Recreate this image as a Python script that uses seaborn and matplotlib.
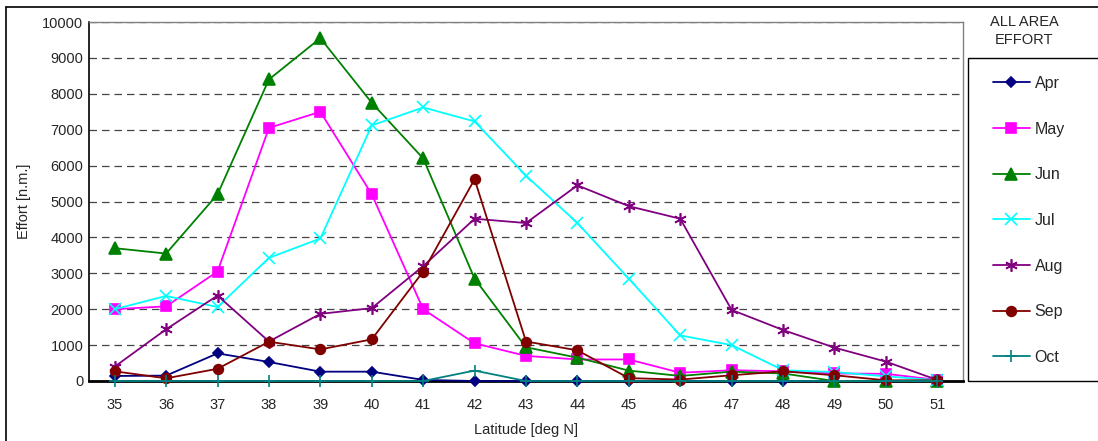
import matplotlib
matplotlib.use("Agg")
import matplotlib.pyplot as plt
import seaborn as sns
import pandas as pd
from matplotlib.patches import Rectangle
from matplotlib.lines import Line2D

latitude = list(range(35, 52))
months = ['Apr', 'May', 'Jun', 'Jul', 'Aug', 'Sep', 'Oct']

apr = [140, 150, 770, 530, 260, 260, 30, 0, 0, 0, 0, 0, 0, 0, 0, 0, 0]
may = [2000, 2080, 3050, 7050, 7500, 5200, 2000, 1050, 700, 600, 600, 230, 300, 270, 210, 200, 30]
jun = [3700, 3550, 5200, 8400, 9550, 7750, 6200, 2850, 940, 650, 290, 140, 260, 210, 0, 0, 0]
jul = [2000, 2370, 2060, 3430, 3970, 7120, 7620, 7230, 5720, 4400, 2850, 1270, 1000, 300, 250, 130, 20]
aug = [400, 1440, 2380, 1100, 1870, 2030, 3200, 4520, 4400, 5450, 4870, 4520, 1980, 1420, 930, 540, 30]
sep = [270, 75, 340, 1095, 880, 1160, 3050, 5620, 1100, 855, 80, 40, 160, 270, 160, 20, 20]
octo = [0, 0, 0, 0, 0, 0, 0, 290, 0, 0, 0, 0, 0, 0, 0, 0, 0]

series = {'Apr': apr, 'May': may, 'Jun': jun, 'Jul': jul, 'Aug': aug, 'Sep': sep, 'Oct': octo}
colors = {'Apr': '#000080', 'May': '#FF00FF', 'Jun': '#008000', 'Jul': '#00FFFF',
          'Aug': '#800080', 'Sep': '#800000', 'Oct': '#008080'}
markers = {'Apr': 'D', 'May': 's', 'Jun': '^', 'Jul': 'x', 'Aug': (6, 2, 0), 'Sep': 'o', 'Oct': '+'}
msizes = {'Apr': 5.5, 'May': 7, 'Jun': 8, 'Jul': 8, 'Aug': 9, 'Sep': 7, 'Oct': 8}

rows = []
for m in months:
    for lat, v in zip(latitude, series[m]):
        rows.append({'lat': lat, 'effort': v, 'month': m})
df = pd.DataFrame(rows)

sns.set_style('white')
plt.rcParams['font.family'] = ['Liberation Sans', 'DejaVu Sans']

fig = plt.figure(figsize=(10.98, 4.41), dpi=100)
ax = fig.add_axes([89 / 1098, 1 - 381 / 441, (963 - 89) / 1098, (381 - 22) / 441])

for m in months:
    sub = df[df['month'] == m]
    sns.lineplot(data=sub, x='lat', y='effort', color=colors[m], marker=markers[m],
                 markersize=msizes[m], markeredgecolor=colors[m], markeredgewidth=1.2,
                 linewidth=1.3, ax=ax, label=m, legend=False, zorder=3, clip_on=False)

ax.set_xlim(34.5, 51.5)
ax.set_ylim(0, 10000)
ax.set_xticks(latitude)
ax.set_xticks([x + 0.5 for x in latitude[:-1]], minor=True)
ax.set_yticks(range(0, 10001, 1000))
ax.tick_params(axis='x', which='major', length=0, labelsize=10.5, pad=12)
ax.tick_params(axis='x', which='minor', length=4, direction='in', color='black')
ax.tick_params(axis='y', length=0, labelsize=10.5, pad=4)
ax.yaxis.grid(True, linestyle=(0, (6, 4)), color='#444444', linewidth=0.9)
ax.set_axisbelow(True)
for s in ['top', 'right']:
    ax.spines[s].set_color('#808080')
    ax.spines[s].set_linewidth(1)
ax.spines['left'].set_color('black')
ax.spines['left'].set_linewidth(1.2)
ax.spines['bottom'].set_color('black')
ax.spines['bottom'].set_linewidth(2)
ax.set_xlabel('Latitude [deg N]', fontsize=10.5, labelpad=8)
ax.set_ylabel('Effort [n.m.]', fontsize=10.5, labelpad=8)

# outer chart border
fig.add_artist(Line2D([6 / 1098, 1], [1 - 7 / 441, 1 - 7 / 441], color='black', lw=1.2,
                      transform=fig.transFigure))
fig.add_artist(Line2D([6 / 1098, 6 / 1098], [0, 1 - 7 / 441], color='black', lw=1.2,
                      transform=fig.transFigure))

# legend box
fig.add_artist(Rectangle((968 / 1098, 1 - 381 / 441), (1098 - 968) / 1098 + 0.01,
                         (381 - 58) / 441, fill=False, edgecolor='black', lw=1,
                         transform=fig.transFigure))
fig.text(1024 / 1098, 1 - 31 / 441, 'ALL AREA\nEFFORT', ha='center', va='center',
         fontsize=10.5, linespacing=1.45)
handles, labels = ax.get_legend_handles_labels()
leg = fig.legend(handles, labels, loc='upper left', bbox_to_anchor=(985 / 1098, 1 - 68 / 441),
                 frameon=False, fontsize=11.5, labelspacing=1.92, handlelength=2.3,
                 handletextpad=0.3, borderpad=0)

plt.savefig('out.png', dpi=100)
